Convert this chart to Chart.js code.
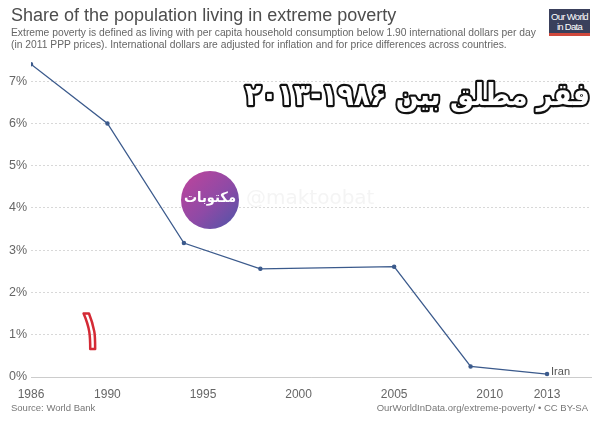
<!DOCTYPE html>
<html>
<head>
<meta charset="utf-8">
<script src="https://cdn.jsdelivr.net/npm/chart.js@4.4.1/dist/chart.umd.min.js"></script>
<style>
  body { margin: 0; background: #fff; font-family: "Liberation Sans", Arial, sans-serif; }
  #wrap { position: relative; width: 600px; height: 423px; }
  #chart { position: absolute; left: 0; top: 0; }
  .title { position: absolute; left: 11px; top: 5px; font-size: 18px; color: #4d4d4d; }
  .sub { position: absolute; left: 11px; top: 27px; font-size: 10.3px; line-height: 12px; color: #666; }
  .logo { position: absolute; left: 549px; top: 9px; width: 41px; height: 27px; background: #3a405c;
          color: #fff; font-size: 9.5px; line-height: 10px; text-align: center; letter-spacing: -0.7px;
          border-bottom: 3px solid #d0493d; box-sizing: border-box; padding-top: 3px; white-space: nowrap; }
  .src { position: absolute; top: 402px; font-size: 9.5px; color: #777; }
</style>
</head>
<body>
<div id="wrap">
  <canvas id="chart" width="600" height="423"></canvas>
  <div class="title">Share of the population living in extreme poverty</div>
  <div class="sub">Extreme poverty is defined as living with per capita household consumption below 1.90 international dollars per day<br>(in 2011 PPP prices). International dollars are adjusted for inflation and for price differences across countries.</div>
  <div class="logo">Our World<br>in Data</div>
  <div class="src" style="left:11px">Source: World Bank</div>
  <div class="src" style="right:12px">OurWorldInData.org/extreme-poverty/ • CC BY-SA</div>
</div>
<script>
// Iran, share living below $1.90/day (%)
const years = [1986, 1990, 1994, 1998, 2005, 2009, 2013];
const iranShare = [7.4, 6.0, 3.17, 2.56, 2.61, 0.25, 0.07];
const xTicks = [1986, 1990, 1995, 2000, 2005, 2010, 2013];
const yTicks = [0, 1, 2, 3, 4, 5, 6, 7];
const seriesName = "Iran";
const persianTitle = "فقر مطلق بین ۱۹۸۶-۲۰۱۳";

const lineColor = "#3b5a8c";

const overlays = {
  id: "overlays",
  afterDatasetsDraw(chart) {
    const ctx = chart.ctx;
    const meta = chart.getDatasetMeta(0);
    const last = meta.data[meta.data.length - 1];

    // series label at the end of the line
    ctx.save();
    ctx.font = "11px 'Liberation Sans', Arial, sans-serif";
    ctx.fillStyle = "#555";
    ctx.textBaseline = "middle";
    ctx.fillText(seriesName, last.x + 4, last.y - 2);
    ctx.restore();

    // watermark
    ctx.save();
    const cx = 210, cy = 200, r = 29;
    const g = ctx.createLinearGradient(cx - r, cy - r, cx + r, cy + r);
    g.addColorStop(0, "#c0449b");
    g.addColorStop(0.55, "#8e4aa6");
    g.addColorStop(1, "#4d55a8");
    ctx.beginPath();
    ctx.arc(cx, cy, r, 0, Math.PI * 2);
    ctx.fillStyle = g;
    ctx.fill();
    ctx.fillStyle = "#fff";
    ctx.font = "bold 14px 'DejaVu Sans', sans-serif";
    ctx.textAlign = "center";
    ctx.textBaseline = "middle";
    ctx.fillText("مکتوبات", cx, cy - 2, 52);
    ctx.fillStyle = "rgba(200,200,200,0.2)";
    ctx.font = "20px 'DejaVu Sans', sans-serif";
    ctx.textAlign = "left";
    ctx.fillText("@maktoobat", 246, 199, 136);
    ctx.restore();

    // Persian headline (outlined lettering)
    ctx.save();
    ctx.font = "bold 30px 'DejaVu Sans', sans-serif";
    ctx.textAlign = "right";
    ctx.textBaseline = "middle";
    ctx.lineJoin = "round";
    ctx.direction = "rtl";
    const tx = 590, ty = 97, mw = 345;
    ctx.lineWidth = 4.5;
    ctx.strokeStyle = "#111";
    ctx.strokeText(persianTitle, tx, ty, mw);
    ctx.fillStyle = "#fff";
    ctx.fillText(persianTitle, tx, ty, mw);
    ctx.restore();

    // red hand-drawn numeral
    ctx.save();
    ctx.font = "56px 'DejaVu Sans', sans-serif";
    ctx.textAlign = "center";
    ctx.textBaseline = "middle";
    ctx.lineWidth = 2.5;
    ctx.strokeStyle = "#d42a35";
    ctx.lineJoin = "round";
    ctx.strokeText("۱", 91, 334);
    ctx.restore();
  }
};

new Chart(document.getElementById("chart"), {
  type: "line",
  data: {
    datasets: [{
      label: seriesName,
      data: years.map((y, i) => ({ x: y, y: iranShare[i] })),
      borderColor: lineColor,
      backgroundColor: lineColor,
      borderWidth: 1.3,
      pointRadius: 1.6,
      pointHoverRadius: 1.6,
      tension: 0
    }]
  },
  options: {
    responsive: false,
    animation: false,
    layout: { padding: { top: 60, bottom: 24, left: 0, right: 9 } },
    plugins: { legend: { display: false }, tooltip: { enabled: false } },
    scales: {
      x: {
        type: "linear",
        min: 1986,
        max: 2015.3,
        afterBuildTicks: (s) => { s.ticks = xTicks.map(v => ({ value: v })); },
        afterFit: (s) => { s.height = 22; },
        grid: { display: false },
        border: { display: true, color: "#ccc", width: 1 },
        ticks: {
          color: "#666",
          font: { family: "'Liberation Sans', Arial, sans-serif", size: 12 },
          padding: 2,
          maxRotation: 0,
          autoSkip: false,
          callback: (v) => String(v)
        }
      },
      y: {
        min: 0,
        max: 7.5,
        afterBuildTicks: (s) => { s.ticks = yTicks.map(v => ({ value: v })); },
        afterFit: (s) => { s.width = 31; },
        grid: { color: "#d8d8d8", drawTicks: false, lineWidth: 1 },
        border: { display: false, dash: [2, 2] },
        ticks: {
          color: "#666",
          font: { family: "'Liberation Sans', Arial, sans-serif", size: 12.5 },
          padding: 4,
          callback: (v) => v + "%"
        }
      }
    }
  },
  plugins: [overlays]
});
</script>
</body>
</html>
